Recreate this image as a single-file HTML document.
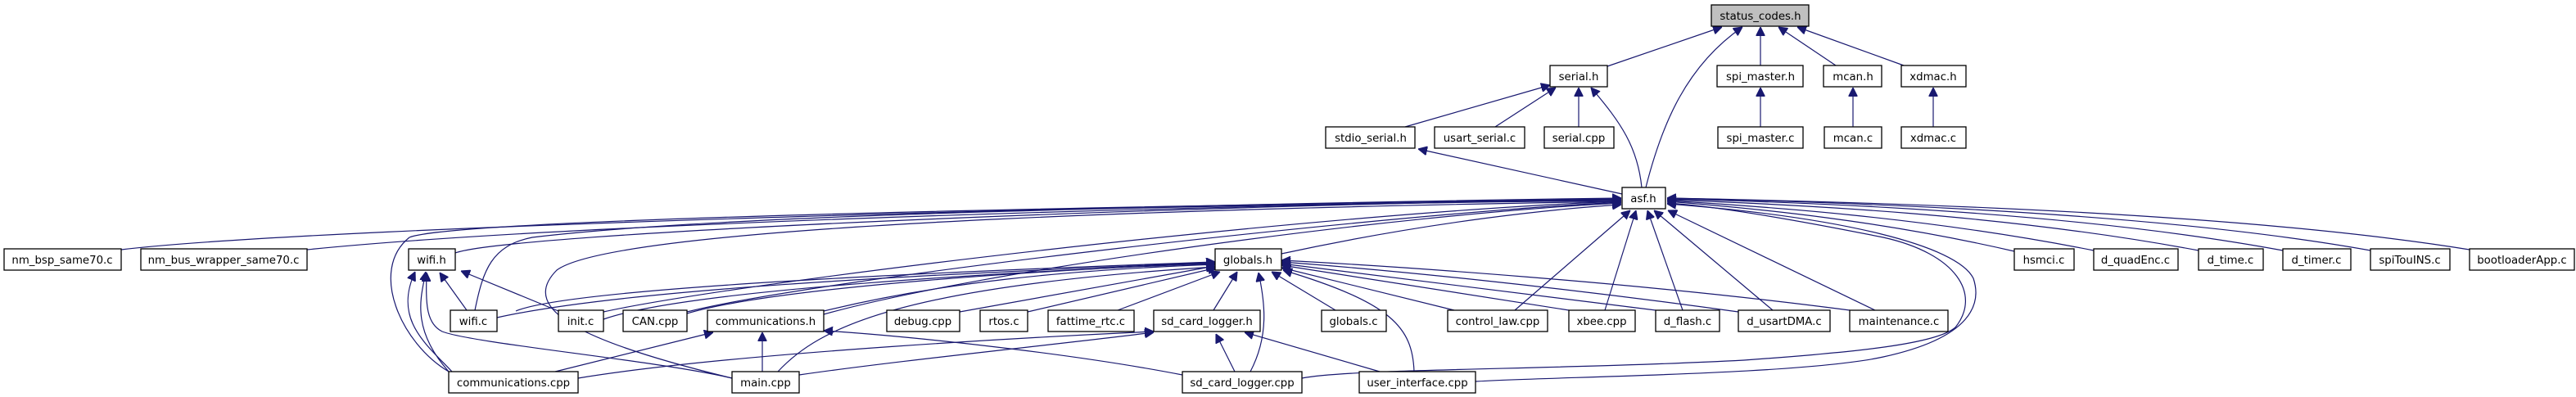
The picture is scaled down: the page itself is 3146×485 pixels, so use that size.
<!DOCTYPE html>
<html><head><meta charset="utf-8"><style>
html,body{margin:0;padding:0;background:#fff;}
svg{display:block;}
text{font-family:"DejaVu Sans","Liberation Sans",sans-serif;font-size:13.3px;fill:#000;text-anchor:middle;}
.e{fill:none;stroke:#191970;stroke-width:1.2;}
.b{fill:#fff;stroke:#000;stroke-width:1.3;}
.s{fill:none;stroke:#666;stroke-width:1.5;}
</style></head><body>
<svg width="3146" height="485" viewBox="0 0 3146 485" xmlns="http://www.w3.org/2000/svg">
<defs><marker id="a" viewBox="0 0 10 10" refX="10" refY="5" markerWidth="11" markerHeight="11" markerUnits="userSpaceOnUse" orient="auto"><path d="M0,0L10,5L0,10z" fill="#191970" stroke="#191970"/></marker></defs>
<g class="e" marker-end="url(#a)">
<!-- to status_codes -->
<path d="M1963,81L2103,33"/>
<path d="M2010,229C2030,150 2060,80 2128,33"/>
<path d="M2150,80L2150,33"/>
<path d="M2242,80L2172,33"/>
<path d="M2325,80L2195,33"/>
<!-- to serial.h -->
<path d="M1716,155L1893,104"/>
<path d="M1826,155L1900,107"/>
<path d="M1928,155L1928,107"/>
<path d="M2005,229C2000,180 1980,150 1943,107"/>
<path d="M2150,155L2150,107"/>
<path d="M2263,155L2263,107"/>
<path d="M2361,155L2361,107"/>
<!-- asf -> stdio -->
<path d="M1981,237L1732,182"/>
<!-- to asf.h -->
<path d="M148,305C400,275 1500,248 1980,242"/>
<path d="M375,305C700,272 1500,250 1980,244"/>
<path d="M556,309C620,285 1400,252 1980,243"/>
<path d="M580,379C590,330 600,300 650,290C900,260 1500,250 1980,245"/>
<path d="M548,454C490,420 450,330 500,290C560,265 1500,250 1980,243"/>
<path d="M894,462C720,420 630,380 680,330C760,270 1600,252 1980,246"/>
<path d="M737,381C900,345 1600,260 1980,246"/>
<path d="M839,381C1000,340 1700,260 1980,247"/>
<path d="M1006,384C1200,330 1700,262 1980,248"/>
<path d="M1565,310C1750,270 1900,255 1980,250"/>
<path d="M1850,379L1991,257"/>
<path d="M1960,379L1998,257"/>
<path d="M2055,379L2012,257"/>
<path d="M2165,379L2020,257"/>
<path d="M2290,379L2037,257"/>
<path d="M2460,307C2300,270 2150,255 2036,246"/>
<path d="M2557,306C2350,265 2150,252 2036,245"/>
<path d="M2685,306C2450,262 2200,250 2036,244"/>
<path d="M2788,306C2550,262 2250,248 2036,243"/>
<path d="M2895,306C2650,262 2300,248 2036,242"/>
<path d="M3016,305C2750,262 2350,248 2036,242"/>
<path d="M1590,462C1650,450 1900,452 2130,440C2270,430 2365,420 2388,400C2420,360 2390,310 2300,290C2200,270 2100,252 2036,248"/>
<path d="M1802,466C1900,460 2200,458 2300,436C2410,412 2420,370 2410,340C2390,300 2250,265 2036,249"/>
<!-- to globals.h -->
<path d="M607,388C800,345 1300,330 1484,320"/>
<path d="M737,390C850,350 1300,330 1484,321"/>
<path d="M839,383C950,350 1300,328 1484,322"/>
<path d="M1006,380C1150,345 1300,330 1484,323"/>
<path d="M1172,381L1484,325"/>
<path d="M1255,381L1486,327"/>
<path d="M1365,379L1490,332"/>
<path d="M1482,379L1511,332"/>
<path d="M1631,379L1553,332"/>
<path d="M1776,379L1565,327"/>
<path d="M1916,379L1565,324"/>
<path d="M2022,379L1565,322"/>
<path d="M2123,381C1900,350 1700,330 1565,320"/>
<path d="M2259,379C2000,345 1700,325 1565,318"/>
<path d="M1527,454C1550,410 1545,370 1537,333"/>
<path d="M1727,454C1725,400 1700,370 1567,330"/>
<path d="M950,454C1000,400 1100,350 1484,326"/>
<path d="M630,380C700,350 1200,330 1484,320"/>
<!-- to wifi.h -->
<path d="M570,379L537,333"/>
<path d="M682,380L563,331"/>
<path d="M552,454C520,420 480,390 507,332"/>
<path d="M548,454C500,400 515,360 520,332"/>
<path d="M894,462C800,440 580,420 540,405C520,395 520,370 521,333"/>
<!-- to communications.h -->
<path d="M678,454L871,406"/>
<path d="M931,454L931,406"/>
<path d="M1444,458C1300,430 1100,410 1006,404"/>
<!-- to sd_card_logger.h -->
<path d="M706,462C900,430 1300,410 1409,405"/>
<path d="M976,458C1100,440 1300,420 1409,406"/>
<path d="M1508,454L1485,408"/>
<path d="M1685,454L1520,406"/>
</g>
<g>
<rect x="2090" y="6" width="119" height="26" fill="#bfbfbf" stroke="#000" stroke-width="1.3"/>
<text x="2150" y="24">status_codes.h</text>
</g>
<g id="nodes">
<rect class="b" x="1893" y="80" width="70" height="26"/><text x="1928" y="98">serial.h</text>
<rect class="b" x="2097" y="80" width="105" height="26"/><text x="2150" y="98">spi_master.h</text>
<rect class="b" x="2227" y="80" width="71" height="26"/><text x="2263" y="98">mcan.h</text>
<rect class="b" x="2322" y="80" width="79" height="26"/><text x="2361" y="98">xdmac.h</text>
<rect class="b" x="1619" y="155" width="109" height="26"/><text x="1674" y="173">stdio_serial.h</text>
<rect class="b" x="1752" y="155" width="110" height="26"/><text x="1807" y="173">usart_serial.c</text>
<rect class="b" x="1886" y="155" width="85" height="26"/><text x="1928" y="173">serial.cpp</text>
<rect class="b" x="2098" y="155" width="104" height="26"/><text x="2150" y="173">spi_master.c</text>
<rect class="b" x="2228" y="155" width="70" height="26"/><text x="2263" y="173">mcan.c</text>
<rect class="b" x="2322" y="155" width="79" height="26"/><text x="2361" y="173">xdmac.c</text>
<rect class="b" x="1981" y="229" width="53" height="26"/><text x="2007" y="247">asf.h</text>
<rect class="b" x="5" y="304" width="143" height="26"/><text x="76" y="322">nm_bsp_same70.c</text>
<rect class="b" x="172" y="304" width="203" height="26"/><text x="273" y="322">nm_bus_wrapper_same70.c</text>
<rect class="b" x="499" y="304" width="57" height="26"/><text x="527" y="322">wifi.h</text>
<rect class="b" x="1484" y="304" width="81" height="26"/><text x="1524" y="322">globals.h</text>
<rect class="b" x="2460" y="304" width="73" height="26"/><text x="2496" y="322">hsmci.c</text>
<rect class="b" x="2557" y="304" width="103" height="26"/><text x="2608" y="322">d_quadEnc.c</text>
<rect class="b" x="2685" y="304" width="79" height="26"/><text x="2724" y="322">d_time.c</text>
<rect class="b" x="2788" y="304" width="83" height="26"/><text x="2829" y="322">d_timer.c</text>
<rect class="b" x="2895" y="304" width="97" height="26"/><text x="2943" y="322">spiTouINS.c</text>
<rect class="b" x="3016" y="304" width="128" height="26"/><text x="3080" y="322">bootloaderApp.c</text>
<rect class="b" x="550" y="379" width="57" height="26"/><text x="578" y="397">wifi.c</text>
<rect class="b" x="682" y="379" width="55" height="26"/><text x="709" y="397">init.c</text>
<rect class="b" x="761" y="379" width="78" height="26"/><text x="800" y="397">CAN.cpp</text>
<rect class="b" x="864" y="379" width="142" height="26"/><text x="935" y="397">communications.h</text>
<rect class="b" x="1083" y="379" width="89" height="26"/><text x="1127" y="397">debug.cpp</text>
<rect class="b" x="1197" y="379" width="58" height="26"/><text x="1226" y="397">rtos.c</text>
<rect class="b" x="1280" y="379" width="105" height="26"/><text x="1332" y="397">fattime_rtc.c</text>
<rect class="b" x="1409" y="379" width="130" height="26"/><text x="1474" y="397">sd_card_logger.h</text>
<rect class="b" x="1614" y="379" width="79" height="26"/><text x="1653" y="397">globals.c</text>
<rect class="b" x="1768" y="379" width="122" height="26"/><text x="1829" y="397">control_law.cpp</text>
<rect class="b" x="1916" y="379" width="81" height="26"/><text x="1956" y="397">xbee.cpp</text>
<rect class="b" x="2022" y="379" width="78" height="26"/><text x="2061" y="397">d_flash.c</text>
<rect class="b" x="2123" y="379" width="112" height="26"/><text x="2179" y="397">d_usartDMA.c</text>
<rect class="b" x="2259" y="379" width="120" height="26"/><text x="2319" y="397">maintenance.c</text>
<rect class="b" x="548" y="454" width="158" height="26"/><text x="627" y="472">communications.cpp</text>
<rect class="b" x="894" y="454" width="82" height="26"/><text x="935" y="472">main.cpp</text>
<rect class="b" x="1444" y="454" width="146" height="26"/><text x="1517" y="472">sd_card_logger.cpp</text>
<rect class="b" x="1660" y="454" width="142" height="26"/><text x="1731" y="472">user_interface.cpp</text>
</g>
</svg>
</body></html>
